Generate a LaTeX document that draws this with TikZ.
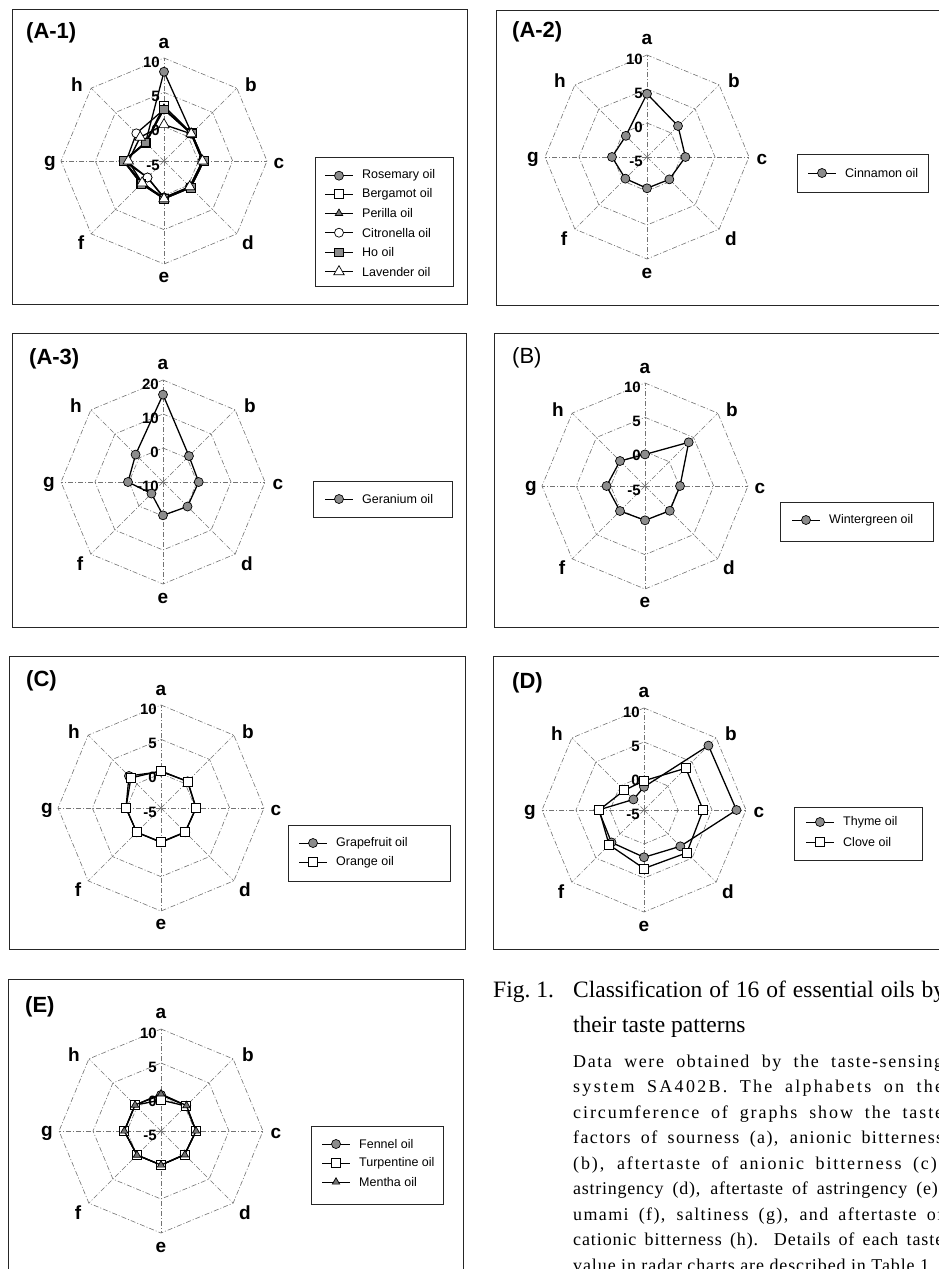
\documentclass[tikz,border=0pt]{standalone}
\usepackage{fontspec}
\setmainfont{Liberation Serif}
\newfontfamily\chartfont{Liberation Sans}
\usetikzlibrary{shapes.geometric}

\tikzset{
  panelbox/.style={draw=black!85, line width=1pt},
  gridline/.style={draw=black!55, line width=0.6pt, dash pattern=on 5pt off 2pt on 1pt off 2pt},
  serline/.style={draw=black, line width=1.3pt, line join=round},
  legline/.style={draw=black, line width=0.9pt},
  legbox/.style={draw=black!85, line width=0.9pt, fill=white},
  mk/.style={draw=black, line width=0.7pt, inner sep=0pt},
  mcirc/.style={mk, circle, fill=black!45, minimum size=9pt},
  mcirco/.style={mk, circle, fill=white, minimum size=9pt},
  msq/.style={mk, rectangle, fill=white, minimum size=9pt},
  msqf/.style={mk, rectangle, fill=black!45, minimum size=8.5pt},
  mtri/.style={mk, regular polygon, regular polygon sides=3, fill=black!55, minimum size=8.5pt},
  mtrio/.style={mk, regular polygon, regular polygon sides=3, fill=white, minimum size=12pt},
  ptitle/.style={font=\chartfont\bfseries\fontsize{22}{25}\selectfont, inner sep=0pt, anchor=west},
  ptitlen/.style={font=\chartfont\fontsize{22}{25}\selectfont, inner sep=0pt, anchor=west},
  axlab/.style={font=\chartfont\bfseries\fontsize{19}{22}\selectfont, inner sep=0pt},
  ringlab/.style={font=\chartfont\bfseries\fontsize{15}{17}\selectfont, inner sep=0pt, anchor=east},
  legtext/.style={font=\chartfont\fontsize{12.5}{15}\selectfont, inner sep=0pt, anchor=west},
  captext/.style={inner sep=0pt, anchor=base west},
}

% radar grid: prefix, outer radius, ring labels (centre to outer)
\newcommand\radarframe[3]{%
  \coordinate (#1o) at (0,0);
  \foreach \k in {0,...,7} \coordinate (#1v\k) at ({-90+45*\k}:#2);
  \foreach \f in {1,2,3} {
    \draw[gridline] (-90:{#2*\f/3}) \foreach \k in {1,...,7} { -- ({-90+45*\k}:{#2*\f/3}) } -- cycle;
  }
  \foreach \k in {0,...,7} \draw[gridline] (#1o) -- (#1v\k);
  \foreach \l/\x/\y in {a/0/-118,b/87/-76,c/115/2,d/84/82,e/0/116,f/-83/82,g/-114/2,h/-87/-76}
    \node[axlab] (#1\l) at (\x,\y) {\l};
  \foreach \t [count=\i from 0] in {#3}
    \node[ringlab] (#1t\i) at (-4,{-#2*\i/3+4}) {\t};
}

% data series: prefix, R, vmin, span, values a..h, marker style
\newcommand\series[6]{%
  \foreach \v [count=\k from 0] in {#5}
    \coordinate (#1p\k) at ({-90+45*\k}:{(\v-(#3))/(#4)*(#2)});
  \draw[serline] (#1p0) \foreach \k in {1,...,7} { -- (#1p\k) } -- cycle;
  \foreach \k in {0,...,7} \node[#6] (#1m\k) at (#1p\k) {};
}

% legend entry: name, x, y, marker, text
\newcommand\legentry[5]{%
  \coordinate (#1a) at (#2,#3);
  \coordinate (#1b) at ({#2+28},#3);
  \draw[legline] (#1a) -- (#1b);
  \node[#4] (#1m) at ({#2+14},#3) {};
  \node[legtext] (#1t) at ({#2+37},#3) {#5};
}

\newcommand\bodyline[4]{%
  \node[captext, font=\fontsize{18}{21}\selectfont\addfontfeature{LetterSpace=#3}] (#1) at (573,#2) {\makebox[370pt][s]{#4}};
}

\begin{document}
\begin{tikzpicture}[x=1pt,y=-1pt]
\useasboundingbox (0,0) rectangle (939,1269);
\fill[white] (0,0) rectangle (939,1269);
\clip (0,0) rectangle (939,1269);

% ---------------- panel boxes
\draw[panelbox] (12,9) rectangle (467,304);
\draw[panelbox] (496,10) rectangle (960,305);
\draw[panelbox] (12,333) rectangle (466,627);
\draw[panelbox] (494,333) rectangle (960,627);
\draw[panelbox] (9,656) rectangle (465,949);
\draw[panelbox] (493,656) rectangle (960,949);
\draw[panelbox] (8,979) rectangle (463,1300);

% ---------------- (A-1)
\node[ptitle] (tA1) at (26,33) {(A-1)};
\begin{scope}[shift={(164,161)}]
  \radarframe{A1}{103}{-5,0,5,10}
  \series{A1ros}{103}{-5}{15}{8.0,0.7,0.7,0.4,0.4,-1.6,0.9,-1.2}{mcirc}
  \series{A1ber}{103}{-5}{15}{3.0,0.7,0.8,0.5,0.5,-0.3,0.9,-1.2}{msq}
  \series{A1per}{103}{-5}{15}{2.7,0.6,0.7,0.4,0.4,-0.5,0.8,-1.3}{mtri}
  \series{A1cit}{103}{-5}{15}{2.5,0.6,0.6,0.3,0.3,-1.6,0.5,0.7}{mcirco}
  \series{A1ho}{103}{-5}{15}{2.5,0.7,0.8,0.5,0.5,-0.3,0.9,-1.2}{msqf}
  \series{A1lav}{103}{-5}{15}{0.3,0.6,0.6,0.3,0.5,-0.5,0.2,-0.1}{mtrio}
\end{scope}
\draw[legbox] (315,157) rectangle (453,286);
\legentry{LA1a}{325}{175.7}{mcirc}{Rosemary oil}
\legentry{LA1b}{325}{194.3}{msq}{Bergamot oil}
\legentry{LA1c}{325}{213.3}{mtri}{Perilla oil}
\legentry{LA1d}{325}{232.7}{mcirco}{Citronella oil}
\legentry{LA1e}{325}{252.3}{msqf}{Ho oil}
\legentry{LA1f}{325}{271.7}{mtrio}{Lavender oil}

% ---------------- (A-2)
\node[ptitle] (tA2) at (512,32) {(A-2)};
\begin{scope}[shift={(647,157)}]
  \radarframe{A2}{102}{-5,0,5,10}
  \series{A2cin}{102}{-5}{15}{4.3,1.45,0.65,-0.35,-0.4,-0.5,0.15,-0.6}{mcirc}
\end{scope}
\draw[legbox] (797,154) rectangle (928,192);
\legentry{LA2a}{808}{173}{mcirc}{Cinnamon oil}

% ---------------- (A-3)
\node[ptitle] (tA3) at (29,359) {(A-3)};
\begin{scope}[shift={(163,482)}]
  \radarframe{A3}{102}{-10,0,10,20}
  \series{A3ger}{102}{-10}{30}{15.7,0.8,0.5,0.2,-0.2,-5.2,0.3,1.4}{mcirc}
\end{scope}
\draw[legbox] (313,481) rectangle (452,517);
\legentry{LA3a}{325}{499}{mcirc}{Geranium oil}

% ---------------- (B)
\node[ptitlen] (tB) at (512,358) {(B)};
\begin{scope}[shift={(645,486)}]
  \radarframe{B}{103}{-5,0,5,10}
  \series{Bwin}{103}{-5}{15}{-0.4,4.0,0.1,0.1,0.0,0.15,0.6,0.15}{mcirc}
\end{scope}
\draw[legbox] (780,502) rectangle (933,541);
\legentry{LBa}{792}{520}{mcirc}{Wintergreen oil}

% ---------------- (C)
\node[ptitle] (tC) at (26,681) {(C)};
\begin{scope}[shift={(161,808)}]
  \radarframe{C}{103}{-5,0,5,10}
  \series{Cgra}{103}{-5}{15}{0.3,0.5,0.1,0.0,0.0,0.0,0.1,1.6}{mcirc}
  \series{Cora}{103}{-5}{15}{0.4,0.45,0.1,-0.05,-0.05,0.0,0.1,1.2}{msq}
\end{scope}
\draw[legbox] (288,825) rectangle (450,881);
\legentry{LCa}{299}{843}{mcirc}{Grapefruit oil}
\legentry{LCb}{299}{862}{msq}{Orange oil}

% ---------------- (D)
\node[ptitle] (tD) at (512,683) {(D)};
\begin{scope}[shift={(644,810)}]
  \radarframe{D}{102}{-5,0,5,10}
  \series{Dthy}{102}{-5}{15}{-1.6,8.4,8.6,2.55,1.95,1.75,1.7,-2.8}{mcirc}
  \series{Dclo}{102}{-5}{15}{-0.7,3.7,3.7,3.9,3.6,2.25,1.6,-0.9}{msq}
\end{scope}
\draw[legbox] (794,807) rectangle (922,860);
\legentry{LDa}{806}{822}{mcirc}{Thyme oil}
\legentry{LDb}{806}{842}{msq}{Clove oil}

% ---------------- (E)
\node[ptitle] (tE) at (25,1007) {(E)};
\begin{scope}[shift={(161,1131)}]
  \radarframe{E}{102}{-5,0,5,10}
  \series{Efen}{102}{-5}{15}{0.3,0.25,0.15,-0.1,0,0,0.4,0.4}{mcirc}
  \series{Etur}{102}{-5}{15}{-0.45,0.2,0.15,-0.1,0,0,0.4,0.4}{msq}
  \series{Emen}{102}{-5}{15}{0.45,0.3,0.15,-0.05,0,0,0.4,0.4}{mtri}
\end{scope}
\draw[legbox] (311,1126) rectangle (443,1204);
\legentry{LEa}{322}{1144}{mcirc}{Fennel oil}
\legentry{LEb}{322}{1163}{msq}{Turpentine oil}
\legentry{LEc}{322}{1182}{mtri}{Mentha oil}

% ---------------- caption
\node[captext, font=\fontsize{23.5}{28}\selectfont] (figno) at (493,997) {Fig.\ 1.};
\node[captext, font=\fontsize{23.5}{28}\selectfont] (cap1) at (573,997) {\makebox[372pt][s]{Classification of 16 of essential oils by}};
\node[captext, font=\fontsize{23.5}{28}\selectfont] (cap2) at (573,1032) {their taste patterns};
\bodyline{b1}{1067}{8.8}{Data were obtained by the taste-sensing}
\bodyline{b2}{1092.5}{12.7}{system SA402B. The alphabets on the}
\bodyline{b3}{1118}{10.7}{circumference of graphs show the taste}
\bodyline{b4}{1143.5}{7.8}{factors of sourness (a), anionic bitterness}
\bodyline{b5}{1169}{10.5}{(b), aftertaste of anionic bitterness (c),}
\bodyline{b6}{1194.5}{4.2}{astringency (d), aftertaste of astringency (e),}
\bodyline{b7}{1220}{7.6}{umami (f), saltiness (g), and aftertaste of}
\bodyline{b8}{1245.5}{5}{cationic bitterness (h). Details of each taste}
\node[captext, font=\fontsize{18}{21}\selectfont\addfontfeature{LetterSpace=5}] (b9) at (573,1271) {value in radar charts are described in Table 1.};
\end{tikzpicture}
\end{document}
